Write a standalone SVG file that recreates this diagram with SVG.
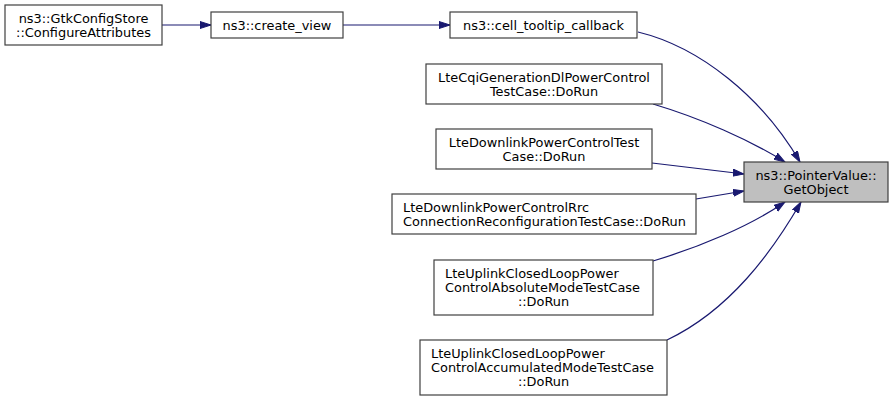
<svg xmlns="http://www.w3.org/2000/svg" width="893" height="401" viewBox="0 0 893 401">
<style>
.n rect{fill:#ffffff;stroke:#404040;stroke-width:1.2}
.hl rect{fill:#bfbfbf}
text{font-family:"DejaVu Sans","Liberation Sans",sans-serif;font-size:12.9px;fill:#000}
.c{text-anchor:middle}
.e path{fill:none;stroke:#191970;stroke-width:1.2}
</style>
<defs>
<marker id="ah" markerUnits="userSpaceOnUse" markerWidth="12" markerHeight="10" refX="11" refY="4" orient="auto">
<polygon points="0,0.5 11,4 0,7.5" fill="#191970" stroke="#191970" stroke-width="1"/>
</marker>
</defs>
<rect width="893" height="401" fill="#ffffff"/>
<g class="e" id="edges">
<path d="M162,25 L211,25" marker-end="url(#ah)"/>
<path d="M343,25 L450,25" marker-end="url(#ah)"/>
<path d="M638,32 C700,47 762,97 800,162" marker-end="url(#ah)"/>
<path d="M653,104 C700,118 750,140 785,162" marker-end="url(#ah)"/>
<path d="M652,163 L744,174" marker-end="url(#ah)"/>
<path d="M696,199 L744,191" marker-end="url(#ah)"/>
<path d="M653,261 C700,247 750,226 785,202" marker-end="url(#ah)"/>
<path d="M667,340 C730,310 772,252 801,202" marker-end="url(#ah)"/>
</g>
<g class="n" id="n_gtk">
<rect x="5" y="5" width="157" height="40"/>
<text class="c" x="83.5" y="22.5">ns3::GtkConfigStore</text>
<text class="c" x="83.5" y="36.5">::ConfigureAttributes</text>
</g>
<g class="n" id="n_create_view">
<rect x="211" y="12" width="132" height="26"/>
<text class="c" x="277" y="29.7">ns3::create_view</text>
</g>
<g class="n" id="n_cell_tooltip">
<rect x="450" y="12" width="187" height="26"/>
<text class="c" x="543.5" y="29.7">ns3::cell_tooltip_callback</text>
</g>
<g class="n" id="n_cqi">
<rect x="426" y="64" width="236" height="40"/>
<text class="c" x="544" y="82.3">LteCqiGenerationDlPowerControl</text>
<text class="c" x="544" y="96.3">TestCase::DoRun</text>
</g>
<g class="n" id="n_dl">
<rect x="436" y="129" width="216" height="40"/>
<text class="c" x="544" y="147.3">LteDownlinkPowerControlTest</text>
<text class="c" x="544" y="161.3">Case::DoRun</text>
</g>
<g class="n" id="n_rrc">
<rect x="392" y="194" width="304" height="40"/>
<text x="403" y="212.3">LteDownlinkPowerControlRrc</text>
<text x="403" y="226.3">ConnectionReconfigurationTestCase::DoRun</text>
</g>
<g class="n" id="n_abs">
<rect x="434" y="260" width="219" height="55"/>
<text x="445" y="277.5">LteUplinkClosedLoopPower</text>
<text x="445" y="291.5">ControlAbsoluteModeTestCase</text>
<text class="c" x="543.5" y="305.5">::DoRun</text>
</g>
<g class="n" id="n_acc">
<rect x="420" y="340" width="247" height="55"/>
<text x="431" y="357.5">LteUplinkClosedLoopPower</text>
<text x="431" y="371.5">ControlAccumulatedModeTestCase</text>
<text class="c" x="543.5" y="385.5">::DoRun</text>
</g>
<g class="n hl" id="n_getobject">
<rect x="744" y="162" width="144" height="40"/>
<text class="c" x="816" y="180">ns3::PointerValue::</text>
<text class="c" x="816" y="194">GetObject</text>
</g>
</svg>
